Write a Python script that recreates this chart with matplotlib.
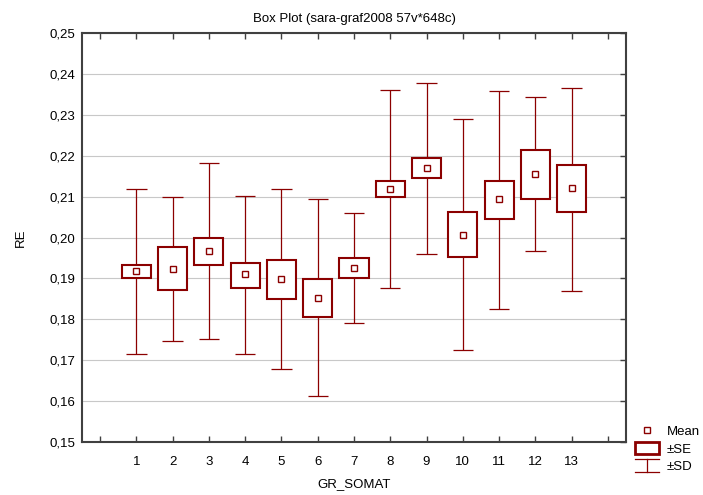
import matplotlib
matplotlib.use("Agg")
import matplotlib.pyplot as plt
from matplotlib.patches import Rectangle
from matplotlib.lines import Line2D
from matplotlib.legend_handler import HandlerBase
from matplotlib.ticker import FuncFormatter

plt.rcParams["font.family"] = ["Liberation Sans", "DejaVu Sans"]

groups = [1, 2, 3, 4, 5, 6, 7, 8, 9, 10, 11, 12, 13]
mean = [0.1917, 0.1923, 0.1967, 0.1910, 0.1899, 0.1852, 0.1925,
        0.2119, 0.2169, 0.2006, 0.2093, 0.2156, 0.2120]
se_lo = [0.1900, 0.1871, 0.1933, 0.1876, 0.1849, 0.1805, 0.1900,
         0.2100, 0.2145, 0.1952, 0.2045, 0.2095, 0.2062]
se_hi = [0.1932, 0.1976, 0.1999, 0.1938, 0.1946, 0.1899, 0.1949,
         0.2138, 0.2194, 0.2063, 0.2138, 0.2214, 0.2177]
sd_lo = [0.1716, 0.1746, 0.1751, 0.1714, 0.1679, 0.1612, 0.1790,
         0.1876, 0.1960, 0.1726, 0.1826, 0.1966, 0.1870]
sd_hi = [0.2118, 0.2100, 0.2181, 0.2102, 0.2118, 0.2093, 0.2061,
         0.2361, 0.2379, 0.2289, 0.2357, 0.2343, 0.2366]

red = "#8b0000"

fig = plt.figure(figsize=(7.03, 4.95), dpi=100)
ax = fig.add_axes([0.1166, 0.1071, 0.7739, 0.8262])

# whiskers (+-SD) with caps
cap = 0.28
ax.vlines(groups, sd_lo, sd_hi, color=red, lw=0.9, zorder=2)
ax.hlines(sd_lo, [g - cap for g in groups], [g + cap for g in groups], color=red, lw=0.9, zorder=2)
ax.hlines(sd_hi, [g - cap for g in groups], [g + cap for g in groups], color=red, lw=0.9, zorder=2)

# +-SE boxes
heights = [h - l for h, l in zip(se_hi, se_lo)]
ax.bar(groups, heights, bottom=se_lo, width=0.8, color="white",
       edgecolor=red, linewidth=1.5, zorder=3)

# means
ax.plot(groups, mean, "s", ms=5, mfc="white", mec=red, mew=1.0, zorder=4)

ax.set_xlim(-0.5, 14.5)
ax.set_ylim(0.15, 0.25)
ax.set_xticks(range(0, 15))
ax.set_xticklabels([""] + [str(g) for g in groups] + [""])
ax.set_yticks([0.15 + 0.01 * i for i in range(11)])
ax.yaxis.set_major_formatter(FuncFormatter(lambda v, p: f"{v:.2f}".replace(".", ",")))
ax.grid(axis="y", color="#c8c8c8", lw=0.8)
ax.set_axisbelow(True)

ax.tick_params(axis="x", direction="in", top=True, length=4, width=1, color="#404040",
               labelsize=9.5, pad=10)
ax.tick_params(axis="y", direction="in", right=True, left=False, length=4, width=1,
               color="#404040", labelsize=9.5, pad=5)
for s in ax.spines.values():
    s.set_color("#404040")
    s.set_linewidth(1.5)

ax.set_title("Box Plot (sara-graf2008 57v*648c)", fontsize=9.5, pad=8)
ax.set_ylabel("RE", fontsize=9.5, labelpad=16)
ax.set_xlabel("GR_SOMAT", fontsize=9.5, labelpad=7)


class SDHandler(HandlerBase):
    def create_artists(self, legend, orig_handle, xdescent, ydescent,
                       width, height, fontsize, trans):
        cx = width / 2 - xdescent
        y0 = -ydescent
        y1 = -ydescent + height
        kw = dict(color=red, lw=0.9, transform=trans)
        return [Line2D([cx, cx], [y0, y1], **kw),
                Line2D([0, width], [y0, y0], **kw),
                Line2D([0, width], [y1, y1], **kw)]


h_mean = Line2D([], [], ls="none", marker="s", ms=5, mfc="white", mec=red, mew=1.0)
h_se = Rectangle((0, 0), 1, 1, facecolor="white", edgecolor=red, lw=2)
h_sd = object()
fig.legend([h_mean, h_se, h_sd], ["Mean", "\u00b1SE", "\u00b1SD"],
           handler_map={h_sd: SDHandler()},
           loc="lower left", bbox_to_anchor=(0.903, 0.045), frameon=False,
           fontsize=9.5, handlelength=1.8, handleheight=1.1, handletextpad=0.6,
           labelspacing=0.25, borderaxespad=0, borderpad=0)

fig.savefig("out.png", dpi=100)
